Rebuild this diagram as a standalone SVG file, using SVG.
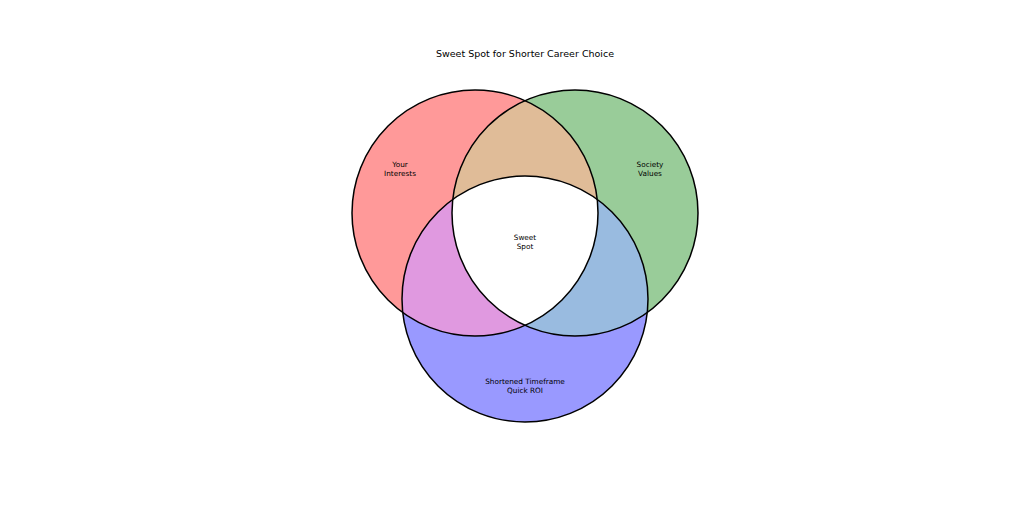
<svg xmlns="http://www.w3.org/2000/svg" width="1024" height="507" viewBox="0 0 1024 507">
<style>
text{font-family:"DejaVu Sans",sans-serif;fill:#000;text-anchor:middle}
.l{font-size:7.3px}
.o{fill:none;stroke:#000;stroke-width:1.5}
</style>
<defs>
<circle id="A" cx="475" cy="213" r="123"/>
<circle id="B" cx="575" cy="213" r="123"/>
<circle id="C" cx="525" cy="299" r="123"/>
<clipPath id="cA"><use href="#A"/></clipPath>
<clipPath id="cB"><use href="#B"/></clipPath>
<clipPath id="cC"><use href="#C"/></clipPath>
</defs>
<rect width="1024" height="507" fill="#fff"/>
<text x="525" y="57" style="font-size:9.5px">Sweet Spot for Shorter Career Choice</text>
<g id="interests"><use href="#A" fill="#ff9999"/></g>
<g id="society"><use href="#B" fill="#99cc99"/></g>
<g id="timeframe"><use href="#C" fill="#9999ff"/></g>
<g clip-path="url(#cA)"><use href="#B" fill="#e0bc98"/><use href="#C" fill="#e099e0"/></g>
<g clip-path="url(#cB)"><use href="#C" fill="#99bbe0"/></g>
<g clip-path="url(#cA)"><g clip-path="url(#cB)"><use href="#C" fill="#fff"/></g></g>
<g id="outlines"><use href="#A" class="o"/><use href="#B" class="o"/><use href="#C" class="o"/></g>
<g id="connectors"/>
<text class="l" x="400" y="167">Your</text><text class="l" x="400" y="176">Interests</text>
<text class="l" x="650" y="167">Society</text><text class="l" x="650" y="176">Values</text>
<g id="sweetspot"><text class="l" x="525" y="240">Sweet</text><text class="l" x="525" y="249">Spot</text></g>
<text class="l" x="525" y="384">Shortened Timeframe</text><text class="l" x="525" y="393">Quick ROI</text>
</svg>
